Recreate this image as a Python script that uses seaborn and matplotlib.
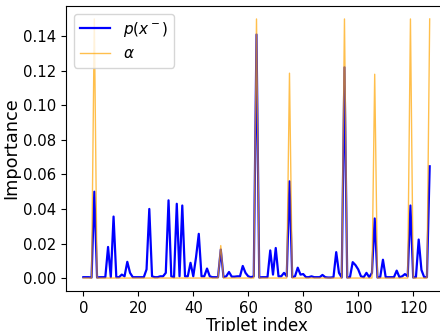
import numpy as np
import pandas as pd
import matplotlib
matplotlib.use("Agg")
import matplotlib.pyplot as plt
import seaborn as sns

p_neg = [0.0005, 0.0005, 0.0005, 0.0003, 0.050, 0.0003, 0.0005, 0.0005, 0.0005, 0.018,
         0.0005, 0.0356, 0.0005, 0.0005, 0.002, 0.001, 0.0094, 0.003, 0.0005, 0.0005,
         0.0005, 0.0005, 0.0005, 0.005, 0.040, 0.001, 0.0005, 0.0005, 0.001, 0.001,
         0.003, 0.045, 0.001, 0.0005, 0.043, 0.001, 0.042, 0.001, 0.001, 0.0088,
         0.001, 0.012, 0.0256, 0.001, 0.001, 0.0055, 0.001, 0.0005, 0.0005, 0.0005,
         0.0165, 0.0005, 0.001, 0.0035, 0.0008, 0.0008, 0.001, 0.001, 0.007, 0.003,
         0.001, 0.0005, 0.001, 0.141, 0.0003, 0.0005, 0.0005, 0.0005, 0.016, 0.002,
         0.0174, 0.001, 0.001, 0.003, 0.001, 0.056, 0.0005, 0.001, 0.006, 0.002,
         0.0023, 0.0005, 0.0005, 0.001, 0.0005, 0.0005, 0.0005, 0.0018, 0.0005, 0.0003,
         0.0003, 0.0005, 0.015, 0.003, 0.0003, 0.122, 0.0003, 0.0005, 0.0092, 0.0075,
         0.005, 0.001, 0.0005, 0.003, 0.0005, 0.003, 0.0345, 0.0003, 0.0005, 0.0106,
         0.0005, 0.0005, 0.0005, 0.0005, 0.0043, 0.0005, 0.001, 0.0023, 0.001, 0.042,
         0.0003, 0.0005, 0.0223, 0.0047, 0.0005, 0.0005, 0.0647]

alpha_w = [0.0, 0.0, 0.0, 0.0, 0.150, 0.0, 0.0, 0.0, 0.0, 0.0,
           0.0, 0.0, 0.0, 0.0, 0.0, 0.0, 0.0, 0.0, 0.0, 0.0,
           0.0, 0.0, 0.0, 0.0, 0.0, 0.0, 0.0, 0.0, 0.0, 0.0,
           0.0, 0.0, 0.0, 0.0, 0.0, 0.0, 0.0, 0.0, 0.0, 0.0,
           0.0, 0.0, 0.0, 0.0, 0.0, 0.0, 0.0, 0.0, 0.0, 0.0,
           0.0188, 0.0, 0.0, 0.0, 0.0, 0.0, 0.0, 0.0, 0.0, 0.0,
           0.0, 0.0, 0.0, 0.150, 0.0, 0.0, 0.0, 0.0, 0.0, 0.0,
           0.0, 0.0, 0.0, 0.0, 0.0, 0.1186, 0.0, 0.0, 0.0, 0.0,
           0.0, 0.0, 0.0, 0.0, 0.0, 0.0, 0.0, 0.0, 0.0, 0.0,
           0.0, 0.0, 0.0, 0.0, 0.0, 0.150, 0.0, 0.0, 0.0, 0.0,
           0.0, 0.0, 0.0, 0.0, 0.0, 0.0, 0.118, 0.0, 0.0, 0.0,
           0.0, 0.0, 0.0, 0.0, 0.0, 0.0, 0.0, 0.0, 0.0, 0.150,
           0.0, 0.0, 0.0, 0.0, 0.0, 0.0, 0.150]

triplet_index = list(range(len(p_neg)))

df = pd.DataFrame({"Triplet index": triplet_index, "p": p_neg, "alpha": alpha_w})

fig = plt.figure(figsize=(4.4, 3.31), dpi=100)
ax = fig.add_axes([66/440, 40/331, (447-66)/440, 285/331])

sns.lineplot(data=df, x="Triplet index", y="p", color="blue", linewidth=1.6,
             label=r"$p(x^-)$", ax=ax)
sns.lineplot(data=df, x="Triplet index", y="alpha", color="orange", linewidth=1.0,
             alpha=0.7, label=r"$\alpha$", ax=ax)

ax.set_xlabel("Triplet index", fontsize=12, labelpad=1)
ax.set_ylabel("Importance", fontsize=12.8, labelpad=2)
ax.set_xticks([0, 20, 40, 60, 80, 100, 120])
ax.tick_params(labelsize=10.7)
ax.legend(loc="upper left", fontsize=11)

fig.savefig("out.png", dpi=100)
